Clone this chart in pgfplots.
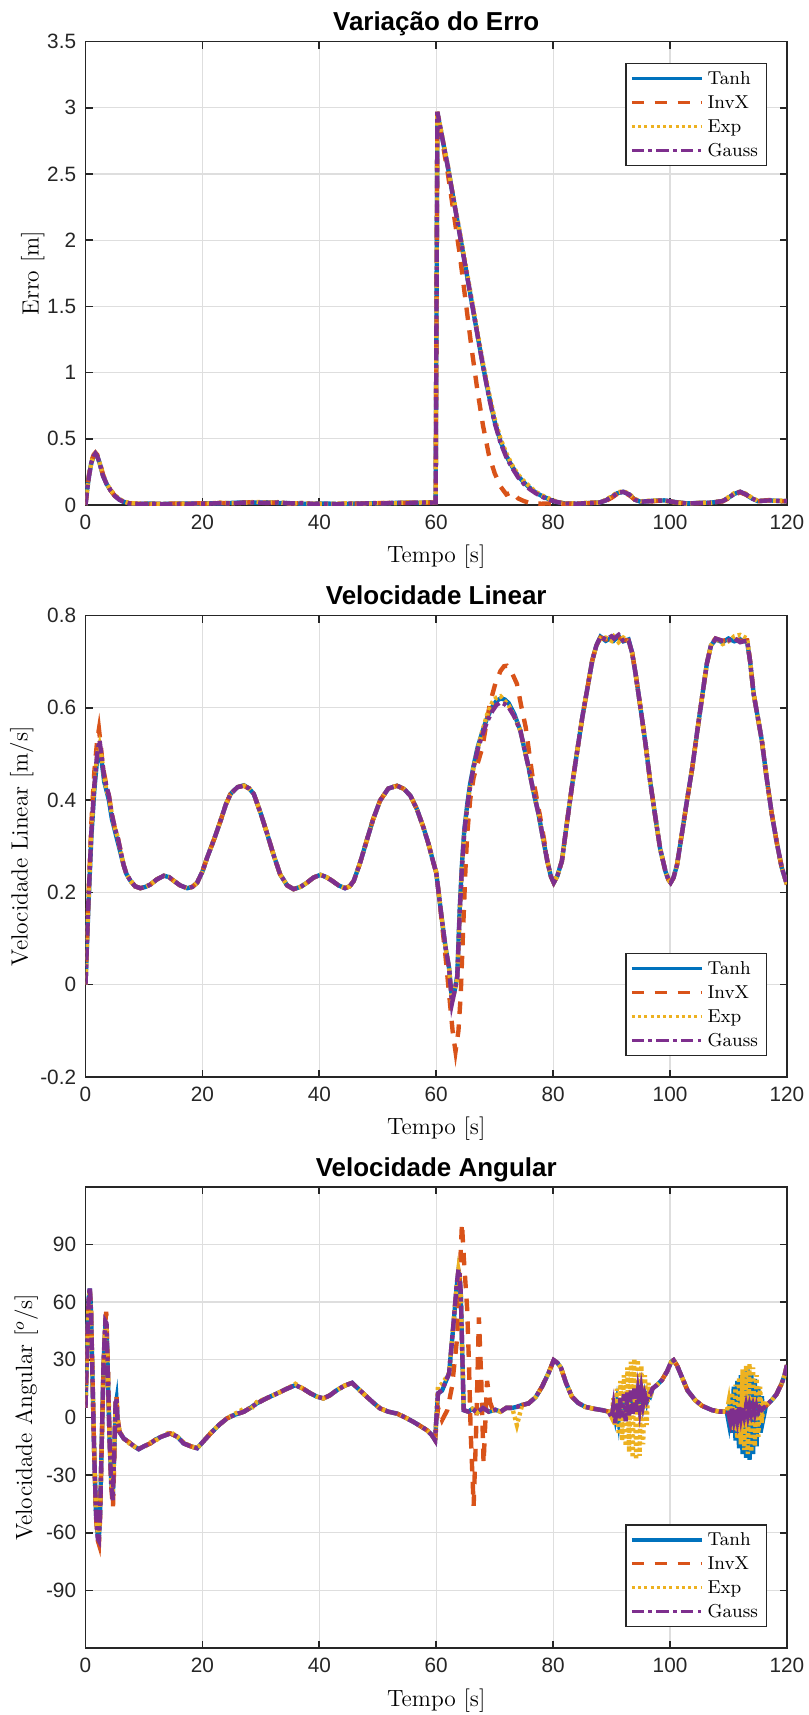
\documentclass[border=0pt]{standalone}
\usepackage{fontspec}
\usepackage{pgfplots}
\usepackage{pgfplotstable}
\pgfplotsset{compat=1.18}
\newfontfamily\helv{Liberation Sans}
\definecolor{cT}{rgb}{0,0.447,0.741}
\definecolor{cI}{rgb}{0.850,0.325,0.098}
\definecolor{cE}{rgb}{0.929,0.694,0.125}
\definecolor{cG}{rgb}{0.494,0.184,0.556}
\definecolor{axc}{rgb}{0.15,0.15,0.15}
\definecolor{grc}{rgb}{0.87,0.87,0.87}

% ---------- Erro ----------
\pgfplotstableread{
t tanh invx exp gauss
0 0 0 0 0
0.3 0.12 0.13 0.12 0.12
0.6 0.22 0.23 0.22 0.22
1.0 0.32 0.33 0.32 0.32
1.4 0.37 0.38 0.37 0.37
1.7 0.385 0.395 0.39 0.39
2.0 0.37 0.38 0.37 0.37
2.4 0.32 0.33 0.32 0.32
3.0 0.22 0.23 0.225 0.22
3.6 0.16 0.165 0.16 0.16
4.3 0.11 0.11 0.115 0.11
5.0 0.07 0.07 0.075 0.07
5.8 0.04 0.04 0.045 0.04
6.5 0.025 0.025 0.028 0.025
7.5 0.012 0.014 0.015 0.012
9 0.008 0.01 0.012 0.008
11 0.012 0.008 0.01 0.01
13 0.008 0.01 0.006 0.006
15 0.01 0.012 0.014 0.01
17 0.012 0.008 0.01 0.008
19 0.01 0.014 0.012 0.012
21 0.014 0.01 0.012 0.01
23 0.012 0.016 0.018 0.015
25 0.016 0.012 0.014 0.012
27 0.02 0.018 0.016 0.018
29 0.018 0.022 0.024 0.02
31 0.02 0.016 0.018 0.015
33 0.016 0.02 0.022 0.02
35 0.014 0.012 0.01 0.012
37 0.01 0.014 0.016 0.015
39 0.01 0.008 0.01 0.008
41 0.012 0.01 0.008 0.01
43 0.008 0.006 0.01 0.006
45 0.01 0.012 0.014 0.012
47 0.012 0.01 0.008 0.01
49 0.014 0.016 0.012 0.015
51 0.012 0.014 0.016 0.012
53 0.016 0.018 0.014 0.018
55 0.018 0.016 0.02 0.015
57 0.016 0.02 0.018 0.02
59 0.02 0.018 0.022 0.018
59.9 0.02 0.02 0.02 0.02
60.2 2.96 2.95 2.97 2.97
61 2.78 2.76 2.79 2.78
62 2.55 2.50 2.56 2.55
63 2.30 2.20 2.31 2.30
64 2.05 1.90 2.07 2.05
65 1.80 1.55 1.82 1.80
66 1.55 1.20 1.57 1.55
67 1.30 0.88 1.32 1.30
68 1.05 0.60 1.07 1.05
69 0.83 0.38 0.85 0.82
70 0.63 0.24 0.65 0.62
71 0.48 0.14 0.50 0.47
72 0.37 0.08 0.39 0.36
73 0.29 0.10 0.30 0.28
74 0.22 0.05 0.23 0.21
75 0.17 0.03 0.18 0.16
76 0.13 0.015 0.14 0.12
77 0.095 0.012 0.10 0.09
78 0.07 0.01 0.075 0.065
79 0.05 0.012 0.055 0.045
80 0.03 0.01 0.035 0.03
81 0.02 0.012 0.022 0.02
82 0.012 0.01 0.014 0.012
84 0.01 0.012 0.012 0.01
86 0.015 0.014 0.018 0.015
88 0.02 0.022 0.018 0.02
89 0.035 0.03 0.04 0.035
90 0.06 0.055 0.065 0.06
91 0.09 0.085 0.095 0.09
92 0.10 0.095 0.105 0.10
93 0.08 0.075 0.085 0.08
94 0.04 0.04 0.045 0.04
95 0.025 0.03 0.028 0.025
97 0.032 0.028 0.035 0.03
99 0.035 0.038 0.032 0.035
101 0.022 0.02 0.018 0.02
103 0.012 0.014 0.01 0.012
105 0.016 0.014 0.018 0.015
107 0.018 0.02 0.016 0.018
109 0.03 0.028 0.032 0.03
110 0.055 0.05 0.06 0.055
111 0.085 0.08 0.09 0.085
112 0.10 0.095 0.10 0.10
113 0.08 0.078 0.085 0.08
114 0.05 0.048 0.055 0.05
115 0.03 0.028 0.032 0.03
117 0.035 0.038 0.032 0.035
119 0.03 0.028 0.034 0.03
120 0.03 0.03 0.03 0.03
}\tabErro

% ---------- Velocidade Linear ----------
\pgfplotstableread{
t tanh exp gauss
0 0 0 0
0.5 0.17 0.18 0.18
1.0 0.32 0.33 0.33
1.5 0.42 0.43 0.43
2.0 0.49 0.50 0.50
2.4 0.51 0.52 0.53
2.8 0.48 0.49 0.49
3.2 0.44 0.45 0.45
3.6 0.42 0.42 0.43
4.0 0.40 0.41 0.41
4.5 0.36 0.37 0.37
5.0 0.335 0.34 0.34
5.5 0.31 0.32 0.32
6.0 0.285 0.29 0.29
6.5 0.26 0.26 0.26
7.0 0.24 0.24 0.24
7.7 0.225 0.225 0.225
8.5 0.213 0.213 0.213
9.4 0.209 0.209 0.209
10.3 0.212 0.212 0.212
11.1 0.217 0.217 0.217
12.2 0.228 0.228 0.228
13.4 0.236 0.236 0.236
14.3 0.233 0.233 0.233
15.1 0.225 0.225 0.225
16.2 0.215 0.215 0.215
17.4 0.209 0.209 0.209
18.3 0.212 0.212 0.212
19.1 0.221 0.221 0.221
20.0 0.245 0.245 0.245
20.8 0.275 0.275 0.275
22.0 0.315 0.315 0.315
23.1 0.355 0.355 0.355
24.0 0.39 0.39 0.39
24.8 0.413 0.413 0.413
26.0 0.428 0.428 0.428
27.1 0.432 0.431 0.431
28.0 0.425 0.425 0.425
28.8 0.413 0.413 0.413
30.0 0.37 0.37 0.37
31.1 0.326 0.326 0.326
32.2 0.28 0.28 0.28
33.3 0.239 0.239 0.239
34.5 0.215 0.215 0.215
35.6 0.207 0.207 0.207
36.8 0.212 0.212 0.212
37.9 0.221 0.221 0.221
39.0 0.232 0.232 0.232
40.2 0.238 0.238 0.238
41.2 0.233 0.233 0.233
42.2 0.225 0.225 0.225
43.3 0.215 0.215 0.215
44.4 0.209 0.209 0.209
45.2 0.213 0.213 0.213
45.9 0.225 0.225 0.225
47.0 0.265 0.265 0.265
48.1 0.312 0.312 0.312
49.2 0.358 0.358 0.358
50.4 0.399 0.399 0.399
51.8 0.425 0.425 0.425
53.3 0.431 0.431 0.431
54.5 0.424 0.424 0.424
55.6 0.409 0.409 0.409
56.7 0.38 0.38 0.38
57.8 0.341 0.341 0.341
58.7 0.304 0.304 0.304
59.5 0.265 0.265 0.265
60.0 0.243 0.243 0.243
60.5 0.19 0.19 0.19
61.0 0.138 0.138 0.138
61.6 0.08 0.08 0.08
62.2 0.036 0.036 0.036
62.7 -0.035 -0.04 -0.04
63.2 -0.01 -0.01 -0.01
63.6 0.02 0.014 0.014
64.0 0.16 0.15 0.15
64.4 0.26 0.254 0.254
64.8 0.335 0.33 0.33
65.3 0.39 0.384 0.384
65.8 0.435 0.43 0.43
66.4 0.475 0.471 0.471
67.1 0.515 0.512 0.51
67.9 0.548 0.55 0.542
68.7 0.578 0.585 0.57
69.6 0.602 0.612 0.593
70.3 0.615 0.622 0.606
71.0 0.62 0.625 0.612
71.7 0.618 0.615 0.608
72.4 0.61 0.605 0.601
73.4 0.585 0.58 0.58
74.4 0.55 0.55 0.55
75.1 0.51 0.51 0.51
75.8 0.471 0.471 0.471
76.6 0.42 0.42 0.42
77.5 0.37 0.37 0.37
78.3 0.315 0.315 0.315
79.0 0.268 0.268 0.268
79.6 0.235 0.235 0.235
80.1 0.221 0.221 0.221
80.7 0.235 0.235 0.235
81.5 0.268 0.268 0.268
82.3 0.345 0.345 0.345
83.2 0.428 0.428 0.428
84.1 0.505 0.505 0.505
85.0 0.58 0.58 0.58
85.9 0.645 0.645 0.645
86.7 0.703 0.703 0.703
87.4 0.735 0.735 0.735
88.1 0.754 0.75 0.754
89.0 0.745 0.752 0.748
90.0 0.752 0.745 0.755
90.4 0.746 0.754 0.75
91.2 0.755 0.742 0.758
92.0 0.744 0.752 0.745
92.9 0.748 0.744 0.746
93.5 0.72 0.72 0.72
94.1 0.674 0.674 0.674
95.0 0.595 0.595 0.595
95.8 0.522 0.522 0.522
96.6 0.44 0.44 0.44
97.5 0.362 0.362 0.362
98.3 0.295 0.295 0.295
99.2 0.246 0.246 0.246
99.7 0.228 0.228 0.228
100.1 0.221 0.221 0.221
100.6 0.232 0.232 0.232
101.2 0.26 0.26 0.26
102.0 0.325 0.325 0.325
102.9 0.399 0.399 0.399
103.8 0.47 0.47 0.47
104.6 0.544 0.544 0.544
105.5 0.625 0.625 0.625
106.3 0.696 0.696 0.696
107.0 0.735 0.735 0.735
107.8 0.748 0.752 0.75
109.0 0.742 0.738 0.745
110.0 0.75 0.744 0.746
111.0 0.744 0.755 0.75
112.0 0.748 0.758 0.742
113.2 0.742 0.75 0.746
113.7 0.7 0.7 0.7
114.3 0.63 0.63 0.63
115.0 0.58 0.58 0.58
115.7 0.529 0.529 0.529
116.5 0.45 0.45 0.45
117.4 0.37 0.37 0.37
118.3 0.305 0.305 0.305
119.1 0.254 0.254 0.254
120 0.217 0.217 0.217
}\tabVL

\pgfplotstableread{
t invx
0 0
0.5 0.19
1.0 0.35
1.5 0.46
2.0 0.53
2.3 0.554
2.6 0.52
3.0 0.47
3.6 0.43
4.0 0.41
4.5 0.37
5.0 0.34
5.5 0.32
6.0 0.29
6.5 0.26
7.0 0.24
7.7 0.225
8.5 0.213
9.4 0.209
10.3 0.212
11.1 0.217
12.2 0.228
13.4 0.236
14.3 0.233
15.1 0.225
16.2 0.215
17.4 0.209
18.3 0.212
19.1 0.221
20.0 0.245
20.8 0.275
22.0 0.315
23.1 0.355
24.0 0.39
24.8 0.413
26.0 0.428
27.1 0.431
28.0 0.425
28.8 0.413
30.0 0.37
31.1 0.326
32.2 0.28
33.3 0.239
34.5 0.215
35.6 0.207
36.8 0.212
37.9 0.221
39.0 0.232
40.2 0.238
41.2 0.233
42.2 0.225
43.3 0.215
44.4 0.209
45.2 0.213
45.9 0.225
47.0 0.265
48.1 0.312
49.2 0.358
50.4 0.399
51.8 0.425
53.3 0.431
54.5 0.424
55.6 0.409
56.7 0.38
57.8 0.341
58.7 0.304
59.5 0.265
60.0 0.243
60.5 0.19
61.0 0.13
61.6 0.06
62.2 -0.02
62.8 -0.10
63.3 -0.145
63.8 -0.10
64.2 -0.02
64.6 0.12
65.0 0.25
65.3 0.326
65.8 0.40
66.4 0.449
67.1 0.48
67.9 0.514
68.5 0.56
69.2 0.61
70.1 0.652
71.0 0.68
71.6 0.69
72.1 0.691
72.8 0.68
73.8 0.652
74.6 0.60
75.3 0.558
76.4 0.457
77.1 0.41
77.8 0.362
78.5 0.31
79.0 0.268
79.6 0.235
80.1 0.221
80.7 0.235
81.5 0.268
82.3 0.345
83.2 0.428
84.1 0.505
85.0 0.58
85.9 0.645
86.7 0.703
87.4 0.735
88.1 0.752
89.0 0.748
90.0 0.75
91.2 0.752
92.0 0.748
92.9 0.745
93.5 0.72
94.1 0.674
95.0 0.595
95.8 0.522
96.6 0.44
97.5 0.362
98.3 0.295
99.2 0.246
99.7 0.228
100.1 0.221
100.6 0.232
101.2 0.26
102.0 0.325
102.9 0.399
103.8 0.47
104.6 0.544
105.5 0.625
106.3 0.696
107.0 0.735
107.8 0.75
109.0 0.745
110.0 0.748
111.0 0.75
112.0 0.745
113.2 0.746
113.7 0.7
114.3 0.63
115.0 0.58
115.7 0.529
116.5 0.45
117.4 0.37
118.3 0.305
119.1 0.254
120 0.217
}\tabVLinvx

% ---------- Velocidade Angular ----------
\pgfplotstableread{
t tanh exp gauss
0 5 5 5
0.3 40 38 40
0.55 62 60 62
0.74 67 66 68
0.95 54 55 55
1.2 20 22 20
1.5 -20 -18 -20
1.8 -50 -48 -50
2.1 -62 -61 -63
2.28 -63 -62 -64
2.5 -50 -49 -50
2.8 -10 -12 -10
3.1 28 27 30
3.4 48 47 50
3.6 47 46 49
3.85 20 22 20
4.1 -10 -8 -10
4.4 -33 -32 -35
4.67 -41 -40 -43
4.9 -20 -19 -20
5.15 6 7 8
5.3 9 9 10
5.5 -2 -1 -2
5.8 -7.5 -7 -7.5
6.55 -11 -11 -11
7.5 -13 -13.5 -13
8.3 -15 -15 -15
9.1 -16.5 -16 -16.5
10 -15 -15.5 -15
11.1 -13.5 -13 -13.5
12 -11.5 -12 -11.5
13 -10 -10 -10
14.5 -8.3 -7.5 -8.3
15.7 -10 -10 -10
16.8 -13.5 -13 -13.5
18 -15 -15 -15
19.1 -16 -16 -16
20 -13 -13 -13
21.4 -8.3 -8 -8.3
22.8 -4 -4 -4
24.2 -0.5 -0.5 -0.5
25.6 1.5 2 1.5
27.1 3 4.5 3
28.2 5 4 5
29.3 7.3 8 7.3
31 10 10 10
32.8 12.5 12.5 12.5
34.5 15 15 15
35.9 16.8 17.5 16.8
37.2 15 15 15
38.5 12.5 12.5 12.5
39.6 10.8 10.8 10.8
40.7 9.9 9.9 9.9
41.8 11.5 11.5 11.5
43.0 14.2 14.2 14.2
44.3 16.5 16.5 16.5
45.6 18 18 18
46.8 14.5 14.5 14.5
48.1 10.8 10.8 10.8
49.3 7.5 7.5 7.5
50.4 4.7 4.7 4.7
51.8 3 3 3
53.3 2 2 2
54.7 0 0 0
56.1 -2.3 -2.3 -2.3
57.3 -4.5 -4.5 -4.5
58.4 -6.6 -6.6 -6.6
59.2 -9 -9 -9
59.8 -11.8 -11.8 -11.8
60.3 12.5 16 12.5
61.0 14 17.5 14.2
62.2 23 23 22.9
63.0 50 51 50.6
63.5 68 69 69
63.8 76 77 77
64.0 73 74 74
64.2 64 65 65
64.4 40 40 40
64.7 3.8 3.8 3.8
65.5 3 3 3
66.2 4.5 4.5 4.5
67 2.5 2.5 2.5
68 5 5 5
69 3 3 3
70.1 4 4 4
71 3 3 3
72 5 5 5
73.0 5 5 5
73.8 5.5 -4 5.5
74.7 6.5 6.5 6.5
75.8 7.3 7.3 7.3
77 10.5 10.5 10.5
78.1 16 16 16
79.2 23 23 23
80.1 29.8 29.8 29.8
80.7 28.5 28.5 28.5
81.3 26 26 26.3
82.2 18 18 18
83.2 10.8 10.8 10.8
84.3 7.5 7.5 7.5
85.5 5.5 5.5 5.5
87 4.5 4.5 4.5
88.4 3.8 3.8 3.8
89.5 3 3 3
90.0 1 0 0
90.3 5 10 6
90.6 0 -4 -3
90.9 7 15 8
91.2 -1 -9 -1
91.5 9 19 10
91.8 0 -12 0
92.1 11 22 12
92.4 1 -15 -2
92.7 12 26 13
93.0 2 -18 1
93.3 13 29 14
93.6 3 -21 2
93.9 14 30.5 15
94.2 4 -22 3
94.5 13 30 13
94.8 6 -20 5
95.1 14 27 14
95.4 7 -14 7
95.7 12 22 12
96.0 8 -4 9
96.3 12 18 12
96.6 11 10 12
97.0 15 15 15
97.8 17 17 17
98.6 19.4 19.4 19.4
99.5 24 24 24
100.2 29 29 29
100.6 29.8 29.8 29.8
101.2 27 27 27
102.0 21.2 21.2 21.2
103 14 14 14
104.3 9 9 9
105.5 6 6 6
107.2 3.8 3.8 3.8
108.5 3 3 3
109.7 3 3 3
110.0 -2 8 2
110.3 12 -3 -2
110.6 -8 13 5
110.9 16 -7 -1
111.2 -12 17 5
111.5 19 -11 -1
111.8 -16 21 6
112.1 22 -14 0
112.4 -19 25 6
112.7 24 -17 1
113.0 -21 27 6
113.3 25 -19 1
113.6 -22 28 6
113.9 23 -18 2
114.2 -19 26 6
114.5 20 -15 2
114.8 -15 22 6
115.1 16 -10 3
115.4 -8 16 5
115.7 11 -3 4
116.0 0 9 5
116.4 6 6 6
117.4 9 9 9
118.2 12 12 12
119.1 17.7 17.7 17.7
119.6 22 22 22
120 27.2 27.2 27.2
}\tabVA

\pgfplotstableread{
t invx
0 5
0.3 38
0.55 60
0.74 66
0.95 56
1.2 22
1.5 -20
1.8 -52
2.1 -64
2.3 -66
2.5 -52
2.8 -12
3.1 28
3.4 50
3.55 55
3.85 25
4.1 -8
4.4 -36
4.7 -47
4.9 -25
5.15 8
5.3 12
5.5 0
5.8 -7
6.55 -11
7.5 -13
8.3 -15
9.1 -16.5
10 -15
11.1 -13.5
12 -11.5
13 -10
14.5 -8.3
15.7 -10
16.8 -13.5
18 -15
19.1 -16
20 -13
21.4 -8.3
22.8 -4
24.2 -0.5
25.6 1.5
27.1 3
28.2 5
29.3 7.3
31 10
32.8 12.5
34.5 15
35.9 16.8
37.2 15
38.5 12.5
39.6 10.8
40.7 9.9
41.8 11.5
43.0 14.2
44.3 16.5
45.6 18
46.8 14.5
48.1 10.8
49.3 7.5
50.4 4.7
51.8 3
53.3 2
54.7 0
56.1 -2.3
57.3 -4.5
58.4 -6.6
59.2 -9
59.8 -11.8
60.3 5
61.0 -1.4
61.9 3.8
62.7 16
63.6 42
64.1 80
64.4 101
64.7 84
65.3 56
65.6 28
65.9 -8
66.4 -46
66.8 -10
67.3 52
67.7 20
68.1 -24
68.7 19
69.2 8
69.8 3
70.1 4
71 3
72 5
73.0 5
74.7 6.5
75.8 7.3
77 10.5
78.1 16
79.2 23
80.1 29.8
80.7 28.5
81.3 26.3
82.2 18
83.2 10.8
84.3 7.5
85.5 5.5
87 4.5
88.4 3.8
89.5 3
90.5 2
91.5 5
92.5 4
93.5 6
94.5 8
95.5 10
97.0 15
97.8 17
98.6 19.4
99.5 24
100.2 29
100.6 29.8
101.2 27
102.0 21.2
103 14
104.3 9
105.5 6
107.2 3.8
108.5 3
110 3
111 4
112 3
113 4
114 4
115 4
116.4 6
117.4 9
118.2 12
119.1 17.7
119.6 22
120 27.2
}\tabVAinvx

\pgfplotsset{
  sT/.style={color=cT, line width=2.1bp, solid},
  sI/.style={color=cI, line width=2.1bp, dash pattern=on 6bp off 5bp},
  sE/.style={color=cE, line width=2.1bp, dash pattern=on 1.5bp off 1.5bp},
  sG/.style={color=cG, line width=2.1bp, dash pattern=on 6bp off 2bp on 1.8bp off 2bp},
  mat/.style={
    scale only axis, width=336.7bp,
    xmin=0, xmax=120, xtick={0,20,...,120},
    axis line style={color=axc, line width=0.8bp},
    tick style={color=axc, line width=0.8bp},
    tick align=inside, major tick length=3.4bp,
    xtick pos=both, ytick pos=both,
    grid=major, major grid style={color=grc, line width=0.6bp},
    /pgf/number format/assume math mode=true,
    ticklabel style={font=\helv\fontsize{10}{12}\selectfont, color=axc},
    xticklabel style={yshift=-1.3bp},
    yticklabel style={xshift=-1bp},
    title style={at={(axis description cs:0.5,1)}, anchor=base, yshift=-0.9bp,
      font=\helv\bfseries\fontsize{12.5}{14}\selectfont},
    label style={font=\fontsize{11.3}{13}\selectfont},
    xlabel style={at={(axis description cs:0.5,0)}, anchor=base, yshift=-27.8bp},
    xlabel={Tempo [s]},
    legend cell align=left,
    legend image code/.code={\draw[##1, line width=1.5bp] (0bp,0bp) -- (33.6bp,0bp);},
    legend style={draw=axc, line width=0.6bp, fill=white,
      font=\fontsize{9}{11}\selectfont,
      inner xsep=2bp, inner ysep=1.5bp, row sep=0bp,
      nodes={inner xsep=2bp, inner ysep=1.5bp, text depth=0.15em, text height=0.7em}},
  },
}

\begin{document}
\begin{tikzpicture}
% ---- Axis 1 ----
\begin{axis}[mat, at={(0bp,0bp)}, anchor=north west, height=222.5bp,
  ymin=0, ymax=3.5, ytick={0,0.5,...,3.5},
  title={Variação do Erro},
  ylabel={Erro [m]},
  ylabel style={at={(axis description cs:-0.0669,0.5)}, anchor=base},
  legend style={at={(rel axis cs:1,1)}, anchor=north east, xshift=-9.6bp, yshift=-10.3bp},
]
\addplot[sT] table[x=t, y=tanh] {\tabErro};
\addplot[sI] table[x=t, y=invx] {\tabErro};
\addplot[sE] table[x=t, y=exp] {\tabErro};
\addplot[sG] table[x=t, y=gauss] {\tabErro};
\legend{Tanh, InvX, Exp, Gauss}
\end{axis}

% ---- Axis 2 ----
\begin{axis}[mat, at={(0bp,-275.5bp)}, anchor=north west, height=221.5bp,
  ymin=-0.2, ymax=0.8, ytick={-0.2,0,0.2,0.4,0.6,0.8},
  title={Velocidade Linear},
  ylabel={Velocidade Linear [m/s]},
  ylabel style={at={(axis description cs:-0.0824,0.5)}, anchor=base},
  legend style={at={(rel axis cs:1,0)}, anchor=south east, xshift=-9.6bp, yshift=10bp},
]
\addplot[sT] table[x=t, y=tanh] {\tabVL};
\addplot[sI] table[x=t, y=invx] {\tabVLinvx};
\addplot[sE] table[x=t, y=exp] {\tabVL};
\addplot[sG] table[x=t, y=gauss] {\tabVL};
\legend{Tanh, InvX, Exp, Gauss}
\end{axis}

% ---- Axis 3 ----
\begin{axis}[mat, at={(0bp,-549.7bp)}, anchor=north west, height=221.5bp,
  ymin=-120, ymax=120, ytick={-90,-60,...,90},
  title={Velocidade Angular},
  ylabel={Velocidade Angular [$^o$/s]},
  ylabel style={at={(axis description cs:-0.0761,0.5)}, anchor=base},
  legend style={at={(rel axis cs:1,0)}, anchor=south east, xshift=-9.6bp, yshift=10bp},
]
\addplot[sT] table[x=t, y=tanh] {\tabVA};
\addplot[sI] table[x=t, y=invx] {\tabVAinvx};
\addplot[sE] table[x=t, y=exp] {\tabVA};
\addplot[sG] table[x=t, y=gauss] {\tabVA};
\legend{Tanh, InvX, Exp, Gauss}
\end{axis}
\pgfresetboundingbox
\useasboundingbox (-41.04bp,19.92bp) rectangle (347.28bp,-803.28bp);
\end{tikzpicture}
\end{document}
